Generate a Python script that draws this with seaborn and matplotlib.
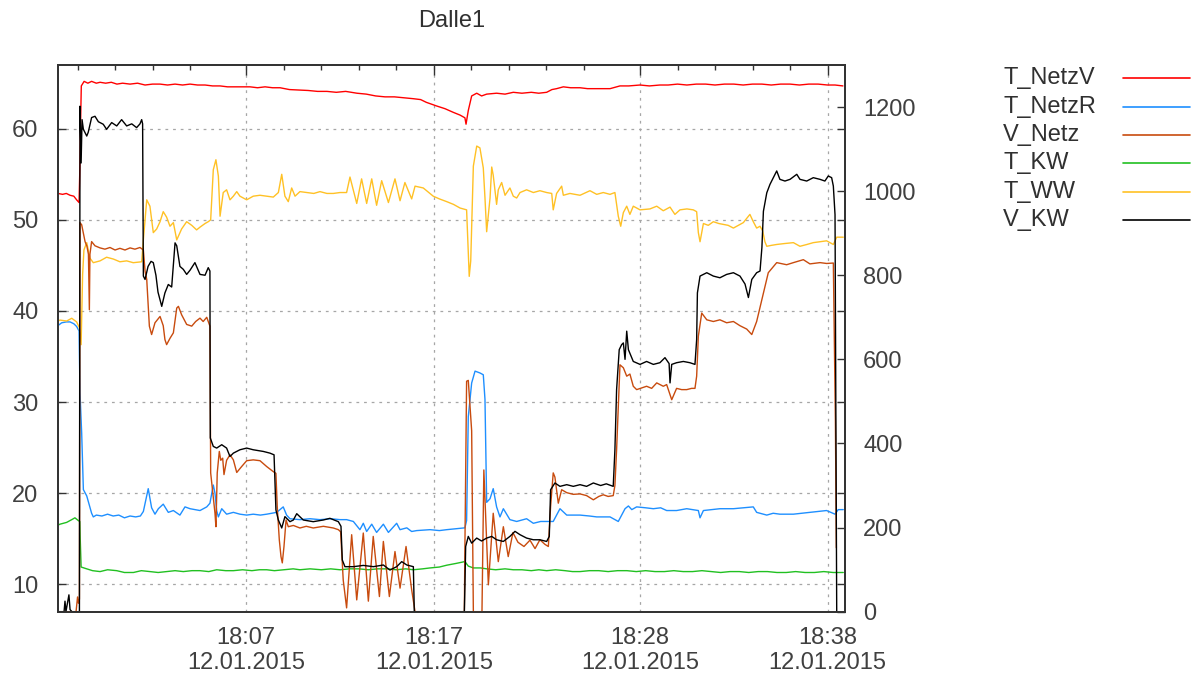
import matplotlib
matplotlib.use("Agg")
import matplotlib.pyplot as plt
import seaborn as sns
import pandas as pd
from matplotlib.lines import Line2D

# ---------------- data (time in minutes after 18:00, 12.01.2015) ----------------
TITLE = "Dalle1"
SERIES_NAMES = ["T_NetzV", "T_NetzR", "V_Netz", "T_KW", "T_WW", "V_KW"]
SERIES_COLORS = ["#ff0000", "#1e8fff", "#c84b0e", "#21c021", "#ffc125", "#000000"]
SERIES_AXIS = ["left", "left", "right", "left", "left", "right"]

X_MAJOR = [7, 17, 28, 38]
X_MAJOR_LABELS = ["18:07\n12.01.2015", "18:17\n12.01.2015",
                  "18:28\n12.01.2015", "18:38\n12.01.2015"]
X_MINOR = [-2, 0, 2, 4, 9, 11, 13, 15, 19, 21, 23, 25, 30, 32, 34, 36]
Y_LEFT_TICKS = [10, 20, 30, 40, 50, 60]
Y_RIGHT_TICKS = [0, 200, 400, 600, 800, 1000, 1200]

T_NETZV = [(-3.04,52.9),(-2.8,52.8),(-2.6,52.9),(-2.4,52.7),(-2.2,52.6),(-2.05,52.2),(-1.92,51.9),
    (-1.87,56.3),(-1.84,60.5),(-1.80,64.7),(-1.65,65.2),(-1.45,65.0),(-1.25,65.2),(-1.0,65.0),(-0.8,65.1),
    (-0.5,65.0),(-0.2,65.1),(0.1,64.9),(0.4,65.0),(0.8,64.9),(1.2,65.0),(1.6,64.8),(2.0,64.9),(2.4,64.9),
    (2.8,64.8),(3.2,64.9),(3.6,64.8),(4.0,64.9),(4.4,64.8),(4.8,64.8),(5.2,64.7),(5.6,64.7),(6.0,64.6),
    (6.4,64.6),(6.8,64.6),(7.2,64.6),(7.6,64.5),(8.0,64.6),(8.4,64.5),(8.8,64.5),(9.3,64.3),(9.8,64.25),
    (10.3,64.2),(10.8,64.1),(11.3,64.1),(11.8,64.0),(12.3,64.1),(12.9,63.9),(13.4,63.8),(13.9,63.6),
    (14.4,63.5),(14.9,63.5),(15.4,63.4),(15.9,63.3),(16.3,63.2),(16.6,62.9),(17.15,62.5),(17.6,62.2),
    (18.04,61.8),(18.4,61.5),(18.66,61.2),(18.72,60.5),(18.84,62.0),(19.02,63.6),(19.29,63.9),(19.55,63.6),
    (19.82,63.8),(20.35,63.9),(20.8,63.8),(21.24,64.0),(21.7,63.9),(22.2,64.0),(22.6,63.9),(23.02,64.0),
    (23.3,64.3),(23.55,64.4),(23.91,64.6),(24.3,64.5),(24.8,64.5),(25.2,64.4),(25.51,64.4),(26.0,64.4),
    (26.4,64.4),(26.93,64.7),(27.4,64.7),(28.0,64.8),(28.5,64.7),(29.06,64.8),(29.5,64.8),(30.0,64.9),
    (30.5,64.8),(31.0,64.9),(31.5,64.9),(32.0,64.8),(32.5,64.9),(33.0,64.9),(33.5,64.8),(34.0,64.9),
    (34.5,64.9),(35.0,64.8),(35.5,64.9),(36.0,64.9),(36.5,64.8),(37.0,64.9),(37.5,64.9),(38.0,64.8),
    (38.4,64.8),(38.82,64.7)]

T_NETZR = [(-3.04,38.4),(-2.85,38.7),(-2.6,38.8),(-2.4,38.8),(-2.2,38.6),(-2.05,38.3),(-1.92,37.8),
    (-1.87,31.0),(-1.78,26.6),(-1.69,20.4),(-1.51,19.7),(-1.25,17.8),(-1.16,17.4),(-1.0,17.6),(-0.7,17.5),
    (-0.4,17.7),(-0.1,17.5),(0.2,17.6),(0.5,17.3),(0.8,17.5),(1.1,17.4),(1.35,17.5),(1.51,18.0),(1.77,20.5),
    (1.95,18.4),(2.13,17.7),(2.31,18.3),(2.57,18.8),(2.84,17.9),(3.11,18.1),(3.46,17.6),(3.73,18.5),
    (4.0,18.3),(4.53,18.1),(4.89,18.5),(5.06,18.9),(5.24,20.9),(5.33,20.0),(5.42,18.1),(5.51,17.4),
    (5.69,18.3),(5.95,17.7),(6.31,17.9),(6.66,17.7),(7.02,17.6),(7.37,17.7),(7.75,17.6),(8.09,17.7),
    (8.62,17.9),(8.97,18.5),(9.15,17.6),(9.33,17.2),(9.86,17.1),(10.4,17.2),(10.93,17.1),(11.5,17.2),
    (12.0,17.1),(12.35,17.1),(12.71,16.9),(13.06,16.0),(13.24,16.7),(13.42,15.8),(13.69,16.6),(13.95,15.7),
    (14.31,16.6),(14.58,15.7),(15.02,16.7),(15.2,16.0),(15.56,16.2),(15.82,15.8),(16.09,15.9),(16.8,16.0),
    (17.3,15.9),(17.69,16.0),(18.2,16.1),(18.66,16.2),(18.75,17.0),(18.84,28.4),(19.02,32.1),(19.2,33.4),
    (19.46,33.2),(19.64,33.0),(19.73,30.3),(19.82,19.0),(20.0,19.4),(20.17,20.5),(20.35,18.5),(20.53,17.4),
    (20.71,18.3),(21.06,17.1),(21.42,16.9),(21.95,17.2),(22.31,16.7),(22.7,16.9),(23.02,16.9),(23.37,16.9),
    (23.73,18.3),(24.09,17.6),(24.8,17.6),(25.3,17.5),(25.69,17.4),(26.4,17.4),(26.84,16.9),(27.02,17.6),
    (27.2,18.3),(27.38,18.6),(27.56,18.2),(27.82,18.5),(28.3,18.4),(28.71,18.3),(29.1,18.4),(29.42,18.1),
    (29.95,18.1),(30.49,18.3),(31.11,18.1),(31.2,17.3),(31.38,18.1),(31.8,18.2),(32.26,18.3),(32.98,18.3),
    (33.5,18.4),(34.04,18.5),(34.22,17.9),(34.76,17.6),(35.1,17.8),(35.46,17.7),(36.18,17.7),(36.6,17.8),
    (37.06,17.9),(37.5,18.0),(37.95,18.1),(38.4,17.7),(38.57,18.2),(38.84,18.2)]

V_NETZ = [(-3.04,0),(-2.08,0),(-2.0,35),(-1.95,20),(-1.90,30),(-1.87,925),(-1.78,920),(-1.69,900),
    (-1.60,880),(-1.50,869),(-1.42,850),(-1.37,718),(-1.34,850),(-1.25,880),(-1.07,870),(-0.80,865),
    (-0.54,862),(-0.27,866),(0.0,860),(0.26,864),(0.53,860),(0.8,865),(1.06,862),(1.33,866),(1.51,860),
    (1.60,810),(1.69,790),(1.83,679),(1.95,659),(2.13,687),(2.40,702),(2.57,680),(2.66,647),(2.75,635),
    (2.93,650),(3.11,663),(3.29,722),(3.38,726),(3.55,706),(3.82,683),(4.09,679),(4.3,690),(4.53,698),
    (4.7,690),(4.89,700),(5.06,679),(5.10,330),(5.33,234),(5.38,202),(5.45,330),(5.56,381),(5.64,360),
    (5.74,365),(5.81,326),(5.95,360),(6.13,373),(6.31,361),(6.49,331),(6.75,345),(7.02,359),(7.37,361),
    (7.73,359),(8.09,345),(8.44,333),(8.58,329),(8.65,250),(8.76,171),(8.85,131),(8.92,116),(9.01,155),
    (9.12,218),(9.24,202),(9.51,205),(9.86,199),(10.2,203),(10.57,199),(11.11,203),(11.64,199),(11.91,195),
    (12.03,190),(12.17,75),(12.35,9),(12.62,183),(12.89,28),(13.24,187),(13.51,25),(13.77,179),(14.10,36),
    (14.31,167),(14.63,36),(14.93,143),(15.20,56),(15.52,155),(15.82,52),(16.00,0),(18.63,0),(18.66,155),
    (18.75,548),(18.84,550),(18.93,488),(19.02,430),(19.11,0),(19.57,0),(19.67,337),(19.91,64),(20.17,234),
    (20.44,119),(20.71,202),(20.97,131),(21.22,188),(21.49,165),(21.81,155),(22.13,170),(22.40,150),
    (22.66,171),(22.93,160),(23.11,155),(23.23,250),(23.37,330),(23.46,320),(23.64,258),(23.82,290),
    (24.09,283),(24.44,279),(24.8,280),(25.15,276),(25.51,266),(25.8,274),(26.04,278),(26.3,274),
    (26.57,276),(26.66,300),(26.75,385),(26.84,488),(26.93,587),(27.11,580),(27.29,560),(27.46,565),
    (27.64,536),(27.82,528),(28.09,532),(28.35,536),(28.62,531),(28.89,544),(29.24,536),(29.42,540),
    (29.69,504),(29.95,531),(30.22,528),(30.49,528),(30.75,531),(30.93,531),(31.02,560),(31.11,655),
    (31.29,710),(31.56,694),(31.91,690),(32.26,694),(32.62,687),(32.98,690),(33.33,680),(33.69,672),
    (33.96,659),(34.22,690),(34.58,758),(34.84,806),(35.29,830),(35.82,825),(36.18,830),(36.71,837),
    (37.06,827),(37.6,830),(37.95,828),(38.31,829),(38.42,452),(38.47,152)]

T_KW = [(-3.04,16.5),(-2.94,16.6),(-2.58,16.8),(-2.31,17.1),(-2.14,17.3),(-1.96,17.0),(-1.88,16.9),
    (-1.86,15.2),(-1.81,11.9),(-1.51,11.7),(-1.2,11.5),(-0.8,11.4),(-0.4,11.6),(0.09,11.5),(0.5,11.3),
    (0.98,11.3),(1.4,11.5),(1.86,11.4),(2.3,11.3),(2.75,11.4),(3.2,11.5),(3.64,11.4),(4.1,11.5),(4.53,11.5),
    (5.0,11.4),(5.42,11.6),(5.9,11.5),(6.31,11.5),(6.8,11.6),(7.3,11.5),(7.7,11.6),(8.09,11.6),(8.5,11.5),
    (9.0,11.6),(9.5,11.7),(9.86,11.6),(10.4,11.7),(11.0,11.6),(11.5,11.7),(12.0,11.6),(12.5,11.7),(13.0,11.7),
    (13.5,11.6),(14.0,11.7),(14.5,11.7),(15.0,11.6),(15.5,11.7),(15.91,11.6),(16.4,11.7),(16.8,11.8),
    (17.3,11.9),(17.69,12.1),(18.2,12.3),(18.66,12.5),(18.84,12.0),(19.11,11.8),(19.5,11.8),(19.82,11.7),
    (20.3,11.6),(20.8,11.7),(21.24,11.6),(21.7,11.6),(22.2,11.5),(22.6,11.6),(23.02,11.5),(23.5,11.6),
    (24.0,11.5),(24.4,11.4),(24.8,11.4),(25.3,11.5),(25.8,11.5),(26.3,11.4),(26.8,11.5),(27.3,11.5),
    (27.8,11.4),(28.3,11.5),(28.8,11.4),(29.3,11.4),(29.8,11.5),(30.3,11.4),(30.8,11.4),(31.3,11.5),
    (31.8,11.4),(32.3,11.3),(32.8,11.4),(33.3,11.4),(33.8,11.3),(34.3,11.4),(34.8,11.4),(35.3,11.3),
    (35.8,11.3),(36.3,11.4),(36.8,11.3),(37.3,11.3),(37.8,11.4),(38.3,11.3),(38.84,11.3)]

T_WW = [(-3.04,38.9),(-2.94,39.0),(-2.58,38.9),(-2.31,39.2),(-2.05,38.8),(-1.91,38.2),(-1.81,36.3),
    (-1.73,44.0),(-1.66,46.7),(-1.51,47.5),(-1.34,45.8),(-1.16,45.3),(-0.8,45.5),(-0.45,45.9),(-0.09,45.7),
    (0.26,45.4),(0.62,45.5),(0.97,45.3),(1.42,45.4),(1.51,47.8),(1.69,52.2),(1.86,51.5),(2.04,48.6),
    (2.22,49.0),(2.4,49.8),(2.57,50.9),(2.75,50.3),(2.93,49.3),(3.11,49.7),(3.29,47.8),(3.55,49.0),
    (3.82,49.8),(4.09,49.4),(4.35,48.9),(4.53,49.2),(4.8,49.6),(4.97,49.8),(5.1,50.0),(5.24,55.5),
    (5.38,56.6),(5.51,54.8),(5.6,50.4),(5.77,53.0),(5.95,53.3),(6.13,52.2),(6.31,52.6),(6.49,53.1),
    (6.66,52.6),(7.02,52.2),(7.37,52.6),(7.73,52.7),(8.09,52.6),(8.44,52.5),(8.71,53.0),(8.89,55.0),
    (9.06,52.6),(9.24,52.0),(9.42,53.5),(9.6,52.6),(9.86,53.1),(10.22,53.0),(10.6,52.9),(10.93,53.1),
    (11.3,52.9),(11.64,52.9),(12.0,53.0),(12.35,53.0),(12.53,54.7),(12.89,51.8),(13.15,54.5),(13.42,51.8),
    (13.69,54.5),(13.95,51.6),(14.22,54.3),(14.58,51.9),(14.93,54.5),(15.2,52.1),(15.46,54.1),(15.82,52.3),
    (16.0,53.7),(16.44,53.5),(16.97,52.6),(17.3,52.3),(17.69,52.0),(18.05,51.7),(18.4,51.3),(18.75,51.1),
    (18.89,43.8),(18.97,45.5),(19.11,55.9),(19.29,58.1),(19.46,57.9),(19.64,55.7),(19.73,52.4),(19.82,48.7),
    (20.0,52.4),(20.09,55.8),(20.17,54.9),(20.35,51.7),(20.44,53.3),(20.62,54.1),(20.8,52.7),(21.06,53.5),
    (21.24,52.6),(21.42,52.4),(21.6,53.0),(21.95,53.3),(22.31,53.0),(22.66,53.2),(23.02,53.0),(23.29,52.9),
    (23.37,51.1),(23.55,52.9),(23.82,53.7),(23.91,52.7),(24.26,52.9),(24.8,52.7),(25.33,53.2),(25.69,52.8),
    (26.04,53.0),(26.4,52.8),(26.66,53.0),(26.84,50.4),(26.97,49.3),(27.11,50.8),(27.29,51.5),(27.46,50.6),
    (27.64,51.5),(28.0,51.1),(28.53,51.2),(28.89,51.5),(29.24,51.0),(29.6,51.4),(29.86,50.6),(30.13,51.1),
    (30.5,51.2),(30.84,51.1),(31.02,50.9),(31.11,48.6),(31.2,47.6),(31.38,49.6),(31.64,49.4),(31.91,49.8),
    (32.2,49.6),(32.44,49.5),(32.7,49.4),(32.98,49.1),(33.25,49.4),(33.51,49.7),(33.86,50.6),(34.04,49.8),
    (34.22,49.1),(34.4,49.3),(34.54,48.8),(34.66,47.6),(34.76,47.1),(35.0,47.2),(35.29,47.3),(35.7,47.4),
    (36.18,47.5),(36.53,47.1),(36.9,47.3),(37.24,47.5),(37.6,47.6),(37.95,47.7),(38.31,47.3),(38.49,48.1),
    (38.84,48.1)]

V_KW = [(-3.04,0),(-2.72,0),(-2.67,25),(-2.62,0),(-2.46,40),(-2.40,5),(-2.30,0),(-1.90,0),(-1.87,1202),
    (-1.81,1067),(-1.76,1170),(-1.69,1147),(-1.51,1131),(-1.43,1140),(-1.25,1175),(-1.07,1178),(-0.89,1165),
    (-0.63,1159),(-0.45,1147),(-0.18,1163),(0.09,1155),(0.35,1170),(0.62,1155),(0.89,1160),(1.15,1151),
    (1.33,1160),(1.42,1170),(1.47,1160),(1.51,798),(1.60,790),(1.76,821),(1.92,833),(2.04,830),(2.18,800),
    (2.29,760),(2.49,726),(2.66,758),(2.84,778),(3.02,772),(3.20,877),(3.29,870),(3.46,821),(3.64,814),
    (3.82,802),(4.0,812),(4.26,830),(4.53,802),(4.80,800),(4.97,818),(5.06,810),(5.08,413),(5.24,393),
    (5.42,389),(5.69,397),(5.95,389),(6.13,369),(6.31,377),(6.66,385),(7.02,389),(7.37,385),(7.91,381),
    (8.26,377),(8.48,373),(8.58,242),(8.71,218),(8.89,199),(9.06,226),(9.33,214),(9.51,218),(9.69,233),
    (10.04,218),(10.57,214),(11.11,218),(11.46,222),(11.91,214),(12.05,203),(12.12,123),(12.26,107),
    (12.71,107),(13.24,110),(13.78,107),(14.31,111),(14.66,99),(15.02,107),(15.29,119),(15.56,111),
    (15.91,107),(15.96,0),(18.63,0),(18.66,60),(18.70,155),(18.84,179),(19.02,163),(19.29,175),(19.55,168),
    (19.82,175),(20.09,179),(20.35,171),(20.71,167),(21.06,179),(21.33,191),(21.6,183),(21.95,175),
    (22.31,171),(22.66,171),(23.02,167),(23.16,179),(23.23,290),(23.46,306),(23.73,298),(24.09,302),
    (24.44,298),(24.8,302),(25.15,298),(25.51,306),(25.9,300),(26.2,304),(26.57,298),(26.66,385),
    (26.75,528),(26.89,623),(27.02,635),(27.11,639),(27.2,600),(27.29,667),(27.38,623),(27.64,595),
    (28.0,588),(28.35,595),(28.71,588),(29.06,592),(29.33,604),(29.55,590),(29.6,544),(29.69,588),
    (29.95,592),(30.31,595),(30.66,592),(30.93,588),(31.02,647),(31.06,758),(31.2,798),(31.56,806),
    (31.91,798),(32.26,794),(32.62,802),(32.98,806),(33.33,798),(33.6,779),(33.78,747),(33.96,790),
    (34.22,806),(34.4,810),(34.5,866),(34.58,952),(34.76,996),(34.93,1016),(35.2,1040),(35.29,1048),
    (35.46,1028),(35.73,1024),(36.0,1028),(36.36,1040),(36.53,1028),(36.89,1024),(37.24,1032),(37.6,1028),
    (37.86,1024),(38.04,1036),(38.22,1032),(38.31,1012),(38.4,944),(38.49,0)]

SERIES_DATA = [T_NETZV, T_NETZR, V_NETZ, T_KW, T_WW, V_KW]

# ---------------- figure ----------------
sns.set_style("white")
plt.rcParams['font.family'] = ['Liberation Sans', 'DejaVu Sans']
plt.rcParams['lines.scale_dashes'] = False

TEXT_COLOR = "#404040"
SPINE_COLOR = "#333333"
FS = 17

fig = plt.figure(figsize=(11.97, 6.81), dpi=100)
ax = fig.add_axes([0.0485, 0.1018, 0.6574, 0.8028])
ax2 = ax.twinx()

for name, color, side, pts in zip(SERIES_NAMES, SERIES_COLORS, SERIES_AXIS, SERIES_DATA):
    df = pd.DataFrame(pts, columns=["t", "v"])
    target = ax if side == "left" else ax2
    sns.lineplot(data=df, x="t", y="v", ax=target, color=color, linewidth=1.0,
                 sort=False, estimator=None, legend=False)

ax.set_xlim(-3.04, 38.93)
ax.set_ylim(7, 67)
ax2.set_ylim(0, 1300)
for a in (ax, ax2):
    a.set_xlabel("")
    a.set_ylabel("")

ax.set_xticks(X_MAJOR)
ax.set_xticklabels(X_MAJOR_LABELS)
ax.set_xticks(X_MINOR, minor=True)
ax.set_yticks(Y_LEFT_TICKS)
ax2.set_yticks(Y_RIGHT_TICKS)

ax.tick_params(axis="both", which="both", direction="in", top=True, right=True,
               color=SPINE_COLOR, labelcolor=TEXT_COLOR, labelsize=FS)
ax.tick_params(axis="x", which="major", length=7, width=1, pad=11)
ax.tick_params(axis="x", which="minor", length=3.5, width=1)
ax.tick_params(axis="y", which="major", length=6, width=1, pad=14)
for lab in ax.get_xticklabels():
    lab.set_linespacing(1.15)
ax2.tick_params(axis="y", direction="in", length=6, width=1, pad=13,
                color=SPINE_COLOR, labelcolor=TEXT_COLOR, labelsize=FS)

ax.grid(True, which="major", color="#a6a6a6", linestyle=(0, (2.0, 3.5)), linewidth=0.9)
ax2.grid(False)
for a in (ax, ax2):
    for sp in a.spines.values():
        sp.set_color(SPINE_COLOR)
        sp.set_linewidth(1.3)

ax.set_title(TITLE, fontsize=FS, color="#303030", pad=27)

# key placed outside the plot, text first then line sample
for i, (name, color) in enumerate(zip(SERIES_NAMES, SERIES_COLORS)):
    yc = 1 - (78.3 + i * 28.3) / 681
    fig.text(1003 / 1197, yc, name, ha="left", va="center", fontsize=FS, color="#303030")
    fig.add_artist(Line2D([1123 / 1197, 1190 / 1197], [yc, yc], transform=fig.transFigure,
                          color=color, linewidth=1.2))

fig.savefig("out.png", dpi=100)
